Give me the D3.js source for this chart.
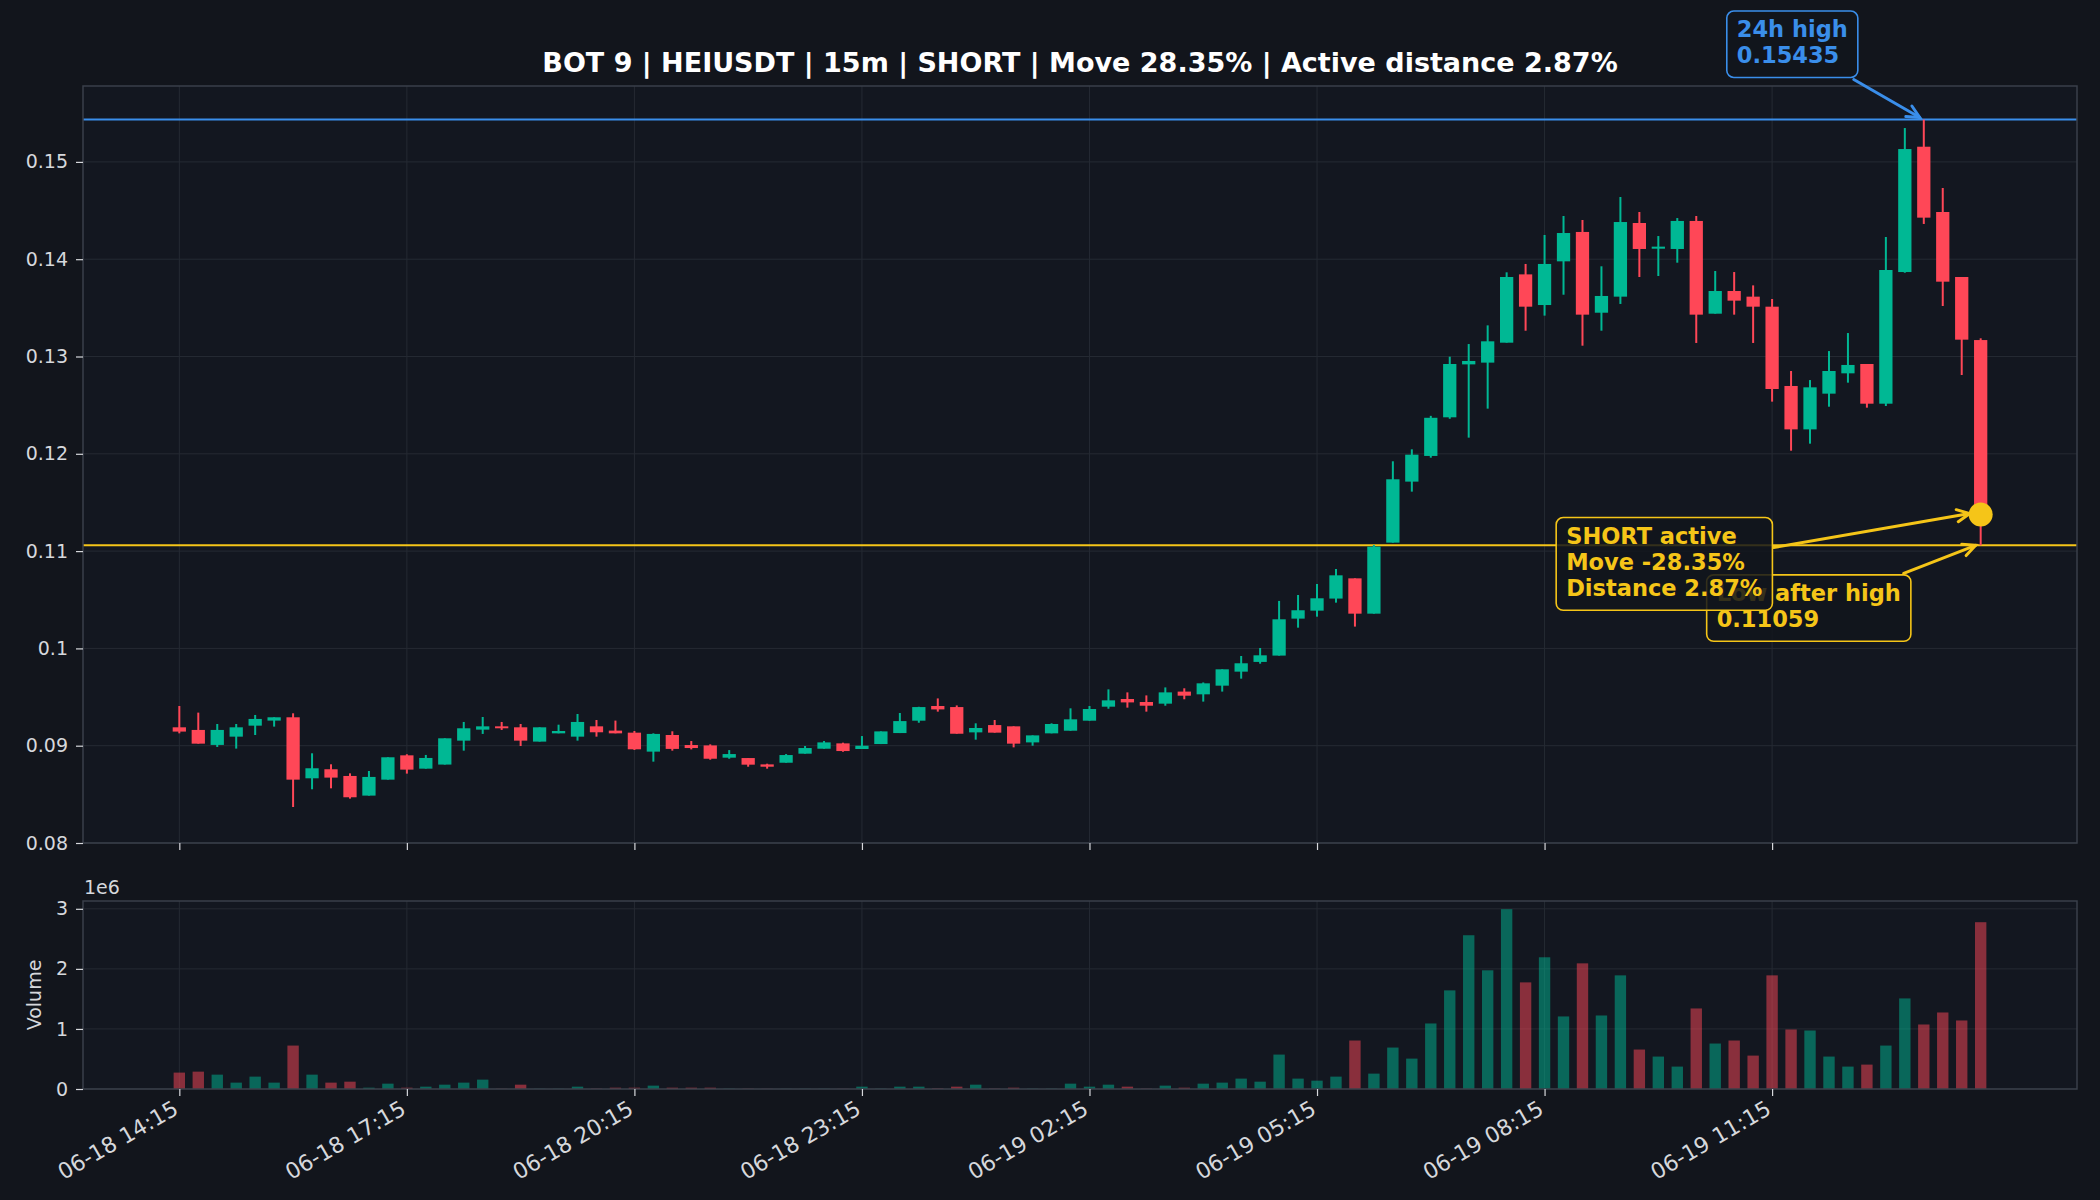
<!DOCTYPE html>
<html><head><meta charset="utf-8">
<script src="https://cdn.jsdelivr.net/npm/d3@7"></script>
<style>html,body{margin:0;padding:0;background:#12151c;} svg{display:block;}</style>
</head><body><svg id="c" width="2100" height="1200"></svg>
<script>
// ---- data (15m candles, 06-18 14:15 -> 06-19 14:00) ----
const opens = [0.09189,0.09162,0.09008,0.09093,0.09206,0.09258,0.09292,0.08665,0.08758,0.08689,0.08487,0.08651,0.08901,0.08764,0.08806,0.09052,0.09165,0.09199,0.09189,0.09042,0.09127,0.09093,0.09199,0.09155,0.09134,0.08939,0.09110,0.09007,0.09003,0.08877,0.08873,0.08808,0.08825,0.08918,0.08969,0.09024,0.08966,0.09017,0.09130,0.09257,0.09408,0.09397,0.09137,0.09212,0.09199,0.09034,0.09127,0.09154,0.09257,0.09401,0.09480,0.09449,0.09432,0.09556,0.09528,0.09617,0.09761,0.09861,0.09926,0.10306,0.10388,0.10512,0.10720,0.10357,0.11087,0.11714,0.11978,0.12375,0.12919,0.12937,0.13142,0.13844,0.13529,0.13978,0.14280,0.13450,0.13615,0.14372,0.14108,0.14105,0.14393,0.13440,0.13673,0.13615,0.13512,0.12697,0.12251,0.12618,0.12827,0.12923,0.12515,0.13868,0.15156,0.14485,0.13817,0.13169];
const highs = [0.09408,0.09340,0.09223,0.09223,0.09316,0.09292,0.09333,0.08922,0.08809,0.08716,0.08740,0.08881,0.08912,0.08905,0.09076,0.09244,0.09295,0.09244,0.09223,0.09189,0.09216,0.09326,0.09264,0.09258,0.09151,0.09127,0.09148,0.09048,0.09014,0.08955,0.08873,0.08815,0.08914,0.08997,0.09048,0.09031,0.09099,0.09147,0.09336,0.09400,0.09486,0.09414,0.09230,0.09264,0.09199,0.09106,0.09230,0.09384,0.09408,0.09579,0.09548,0.09517,0.09599,0.09590,0.09650,0.09785,0.09922,0.10004,0.10488,0.10549,0.10662,0.10816,0.10720,0.11063,0.11923,0.12046,0.12390,0.12998,0.13128,0.13320,0.13865,0.13951,0.14249,0.14444,0.14403,0.13927,0.14639,0.14485,0.14238,0.14423,0.14444,0.13879,0.13868,0.13731,0.13591,0.12851,0.12758,0.13056,0.13241,0.12923,0.14228,0.15348,0.15435,0.14732,0.13817,0.13187];
const lows = [0.09127,0.09021,0.08987,0.08970,0.09110,0.09196,0.08370,0.08552,0.08562,0.08456,0.08487,0.08651,0.08713,0.08764,0.08806,0.08949,0.09121,0.09162,0.08997,0.09042,0.09127,0.09052,0.09093,0.09127,0.08956,0.08836,0.08949,0.08962,0.08856,0.08866,0.08784,0.08764,0.08825,0.08918,0.08969,0.08938,0.08966,0.09017,0.09130,0.09236,0.09350,0.09123,0.09062,0.09134,0.08983,0.09000,0.09127,0.09154,0.09257,0.09380,0.09391,0.09350,0.09411,0.09477,0.09453,0.09556,0.09689,0.09843,0.09926,0.10213,0.10326,0.10470,0.10224,0.10357,0.11087,0.11611,0.11960,0.12360,0.12166,0.12464,0.13142,0.13265,0.13420,0.13635,0.13111,0.13265,0.13540,0.13817,0.13827,0.13964,0.13139,0.13440,0.13430,0.13139,0.12536,0.12032,0.12104,0.12484,0.12731,0.12474,0.12491,0.13861,0.14362,0.13519,0.12810,0.11059];
const closes = [0.09145,0.09021,0.09162,0.09189,0.09275,0.09292,0.08651,0.08768,0.08672,0.08470,0.08679,0.08881,0.08754,0.08874,0.09076,0.09179,0.09199,0.09179,0.09052,0.09189,0.09151,0.09244,0.09138,0.09127,0.08963,0.09121,0.08967,0.08976,0.08866,0.08914,0.08805,0.08784,0.08904,0.08976,0.09034,0.08945,0.09000,0.09147,0.09253,0.09397,0.09373,0.09123,0.09182,0.09134,0.09021,0.09106,0.09223,0.09271,0.09377,0.09466,0.09445,0.09411,0.09548,0.09514,0.09641,0.09785,0.09847,0.09929,0.10299,0.10392,0.10515,0.10751,0.10357,0.11046,0.11738,0.11991,0.12370,0.12923,0.12954,0.13156,0.13817,0.13512,0.13951,0.14269,0.13430,0.13622,0.14382,0.14105,0.14129,0.14393,0.13430,0.13673,0.13574,0.13512,0.12666,0.12251,0.12683,0.12851,0.12913,0.12515,0.13889,0.15132,0.14427,0.13769,0.13173,0.11376];
const volumesM = [0.273,0.289,0.239,0.106,0.206,0.106,0.723,0.239,0.106,0.122,0.022,0.089,0.022,0.039,0.072,0.106,0.156,0.004,0.072,0.004,0.004,0.039,0.006,0.022,0.022,0.056,0.022,0.022,0.022,0.006,0.005,0.003,0.003,0.004,0.004,0.003,0.039,0.006,0.039,0.039,0.010,0.039,0.072,0.006,0.022,0.006,0.006,0.089,0.039,0.072,0.039,0.006,0.056,0.022,0.089,0.106,0.173,0.122,0.573,0.173,0.139,0.206,0.807,0.256,0.690,0.506,1.091,1.642,2.560,1.976,2.994,1.775,2.193,1.208,2.092,1.224,1.892,0.657,0.540,0.373,1.341,0.757,0.807,0.556,1.892,0.991,0.974,0.540,0.373,0.406,0.723,1.508,1.074,1.274,1.141,2.777];
const tickIndex = [0,12,24,36,48,60,72,84];
const tickLabels = ["06-18 14:15","06-18 17:15","06-18 20:15","06-18 23:15","06-19 02:15","06-19 05:15","06-19 08:15","06-19 11:15"];
const priceTicks = [0.08,0.09,0.10,0.11,0.12,0.13,0.14,0.15];
const volTicks = [0,1e6,2e6,3e6];
const titleText = "BOT 9 | HEIUSDT | 15m | SHORT | Move 28.35% | Active distance 2.87%";
const high24 = 0.15435, high24Index = 92;
const lowAfterHigh = 0.11059, lastIndex = 95, lastPrice = 0.11376;
const shortLines = ["SHORT active","Move -28.35%","Distance 2.87%"];
const highLines = ["24h high","0.15435"];
const lowLines = ["Low after high","0.11059"];

// ---- styles ----
const BG = "#12151c", AXBG = "#131720", GRID = "#252a33", SPINE = "#3a3f4a", TXT = "#d6d8dc";
const UP = "#00b894", DOWN = "#ff4757", BLUE = "#3a8eea", YEL = "#f5c518";
const FONT = "DejaVu Sans, Verdana, sans-serif";

const svg = d3.select("#c");
svg.append("rect").attr("width",2100).attr("height",1200).attr("fill",BG);

const L = 83, R = 2077, T1 = 86, B1 = 843, T2 = 901, B2 = 1089;
const n = opens.length;
const x = d3.scaleLinear().domain([-5.08, n - 1 + 5.08]).range([L, R]);
const y = d3.scaleLinear().domain([0.08, 0.1578]).range([B1, T1]);
const yv = d3.scaleLinear().domain([0, 3.13e6]).range([B2, T2]);
const data = d3.range(n).map(i => ({i, o:opens[i], h:highs[i], l:lows[i], c:closes[i], v:volumesM[i]*1e6}));
const col = d => d.c >= d.o ? UP : DOWN;

// axes backgrounds
svg.append("rect").attr("x",L).attr("y",T1).attr("width",R-L).attr("height",B1-T1).attr("fill",AXBG);
svg.append("rect").attr("x",L).attr("y",T2).attr("width",R-L).attr("height",B2-T2).attr("fill",AXBG);

// grids
function grid(yScale, yticks, top, bottom){
  const g = svg.append("g").attr("stroke",GRID).attr("stroke-width",1);
  g.selectAll("line.h").data(yticks).join("line").attr("x1",L).attr("x2",R)
    .attr("y1",d=>yScale(d)).attr("y2",d=>yScale(d));
  g.selectAll("line.v").data(tickIndex).join("line").attr("class","v").attr("y1",top).attr("y2",bottom)
    .attr("x1",d=>x(d)).attr("x2",d=>x(d));
}
grid(y, priceTicks, T1, B1);
grid(yv, volTicks, T2, B2);

// reference lines
svg.append("line").attr("x1",L).attr("x2",R).attr("y1",y(high24)).attr("y2",y(high24)).attr("stroke",BLUE).attr("stroke-width",2);
svg.append("line").attr("x1",L).attr("x2",R).attr("y1",y(lowAfterHigh)).attr("y2",y(lowAfterHigh)).attr("stroke",YEL).attr("stroke-width",2);

// candles
const bw = 0.7, vw = 0.6, unit = x(1) - x(0);
const cg = svg.append("g");
cg.selectAll("line.w").data(data).join("line").attr("x1",d=>x(d.i)).attr("x2",d=>x(d.i))
  .attr("y1",d=>y(d.h)).attr("y2",d=>y(d.l)).attr("stroke",col).attr("stroke-width",2);
cg.selectAll("rect.b").data(data).join("rect").attr("x",d=>x(d.i)-bw*unit/2).attr("width",bw*unit)
  .attr("y",d=>y(Math.max(d.o,d.c))).attr("height",d=>Math.max(1.5, Math.abs(y(d.o)-y(d.c)))).attr("fill",col);

// volume bars
svg.append("g").selectAll("rect").data(data).join("rect").attr("x",d=>x(d.i)-vw*unit/2).attr("width",vw*unit)
  .attr("y",d=>yv(d.v)).attr("height",d=>yv(0)-yv(d.v)).attr("fill",col).attr("fill-opacity",0.5);

// spines
function spine(top,bottom){
  svg.append("rect").attr("x",L).attr("y",top).attr("width",R-L).attr("height",bottom-top)
    .attr("fill","none").attr("stroke",SPINE).attr("stroke-width",1.5);
}
spine(T1,B1); spine(T2,B2);

// axes
function styleAxis(g, fs){
  g.select(".domain").remove();
  g.selectAll(".tick line").attr("stroke",TXT).attr("stroke-width",1.2);
  g.selectAll(".tick text").attr("fill",TXT).attr("font-family",FONT).attr("font-size",fs||19);
}
svg.append("g").attr("transform",`translate(${L},0)`)
  .call(d3.axisLeft(y).tickValues(priceTicks).tickFormat(v=>String(+v.toFixed(2))).tickSize(7).tickPadding(8)).call(styleAxis);
svg.append("g").attr("transform",`translate(${L},0)`)
  .call(d3.axisLeft(yv).tickValues(volTicks).tickFormat(v=>String(v/1e6)).tickSize(7).tickPadding(8)).call(styleAxis);
svg.append("g").attr("transform",`translate(0,${B1})`)
  .call(d3.axisBottom(x).tickValues(tickIndex).tickFormat("").tickSize(7)).call(styleAxis);
const xa = svg.append("g").attr("transform",`translate(0,${B2})`)
  .call(d3.axisBottom(x).tickValues(tickIndex).tickFormat((d,i)=>tickLabels[i]).tickSize(7).tickPadding(8)).call(g=>styleAxis(g,22));
xa.selectAll(".tick text").attr("text-anchor","end").attr("dy",0).attr("y",0)
  .attr("transform","translate(0,24) rotate(-30)");

svg.append("text").attr("x",L+1).attr("y",894).attr("fill",TXT).attr("font-family",FONT).attr("font-size",19).text("1e6");
svg.append("text").attr("transform",`translate(41,${(T2+B2)/2}) rotate(-90)`).attr("text-anchor","middle")
  .attr("fill",TXT).attr("font-family",FONT).attr("font-size",19).text("Volume");

// title
svg.append("text").attr("x",(L+R)/2).attr("y",72).attr("text-anchor","middle").attr("fill","#ffffff")
  .attr("font-family",FONT).attr("font-weight","bold").attr("font-size",27).text(titleText);

// annotations
function arrow(x1,y1,x2,y2,color){
  const g = svg.append("g").attr("stroke",color).attr("stroke-width",3).attr("fill","none").attr("stroke-linecap","round");
  g.append("line").attr("x1",x1).attr("y1",y1).attr("x2",x2).attr("y2",y2);
  const a = Math.atan2(y2-y1,x2-x1), hl = 14, hw = 0.45;
  g.append("path").attr("stroke-linejoin","miter")
    .attr("d",`M${x2-hl*Math.cos(a-hw)},${y2-hl*Math.sin(a-hw)}L${x2},${y2}L${x2-hl*Math.cos(a+hw)},${y2-hl*Math.sin(a+hw)}`);
}
function box(bx, by, lines, color){
  const g = svg.append("g");
  const r = g.append("rect");
  const t = g.append("text").attr("font-family",FONT).attr("font-weight","bold").attr("font-size",22.5).attr("fill",color);
  lines.forEach((s,k)=> t.append("tspan").attr("x",bx+10).attr("y",by+26+k*26.4).text(s));
  const bb = t.node().getBBox();
  r.attr("x",bx).attr("y",by).attr("width",bb.width+20).attr("height",(bb.y+bb.height)-by+9)
    .attr("rx",7).attr("fill",BG).attr("fill-opacity",0.85).attr("stroke",color).attr("stroke-width",1.6);
  return g;
}
const hx = x(high24Index), hy = y(high24);
const px = x(lastIndex), py = y(lastPrice), ly = y(lowAfterHigh);

box(hx-197, hy-108.5, highLines, BLUE);
arrow(hx-70, hy-40, hx-4, hy-2, BLUE);

box(px-274, ly+29.5, lowLines, YEL);
arrow(px-77, ly+28, px-5, ly, YEL);

box(px-424.5, py+3, shortLines, YEL);
arrow(px-207, py+33, px-11, py-1, YEL);

svg.append("circle").attr("cx",px).attr("cy",py).attr("r",12).attr("fill",YEL);
</script></body></html>
